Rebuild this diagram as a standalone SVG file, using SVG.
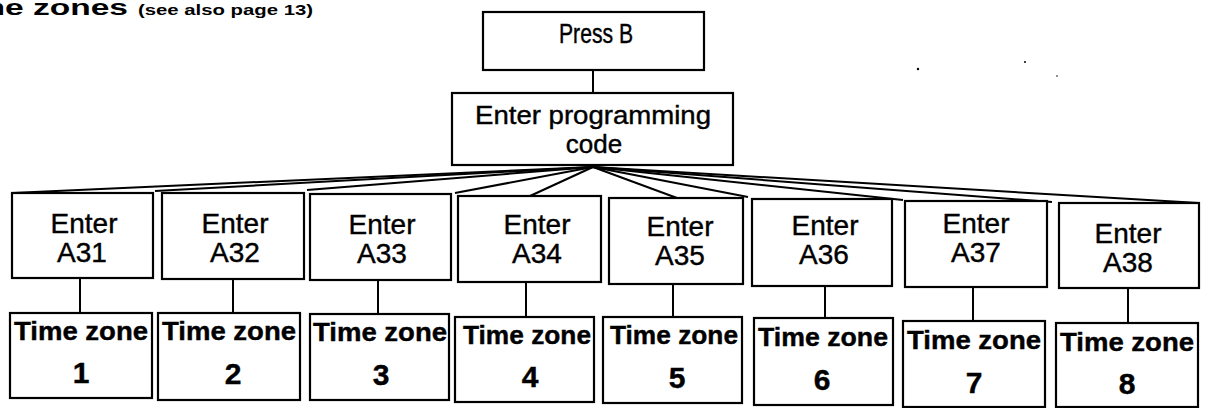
<svg xmlns="http://www.w3.org/2000/svg" width="1207" height="408" viewBox="0 0 1207 408">
<style>
.box{fill:#fff;stroke:#000;stroke-width:2.2}
.ln{stroke:#000;stroke-width:2;fill:none}
.t{font-family:"Liberation Sans",Arial,sans-serif;fill:#000;text-anchor:middle;stroke:#000;stroke-width:0.4}
.en{font-size:28px}
.tz{font-size:25px;font-weight:bold}
.num{font-size:30px;font-weight:bold}
</style>
<rect width="1207" height="408" fill="#fff"/>
<g id="title">
<text x="-54" y="15" font-family="Liberation Sans,Arial,sans-serif" font-weight="bold" font-size="22" textLength="182" lengthAdjust="spacingAndGlyphs">Time zones</text>
<text x="138" y="15" font-family="Liberation Sans,Arial,sans-serif" font-weight="bold" font-size="15" textLength="175" lengthAdjust="spacingAndGlyphs">(see also page 13)</text>
</g>
<g id="specks" fill="#000">
<circle cx="918" cy="69" r="1.2"/><circle cx="1025" cy="62" r="1"/><circle cx="1057" cy="76" r="0.8"/>
</g>
<g id="connectors">
<line class="ln" x1="593" y1="70" x2="593" y2="93"/>
<line class="ln" x1="593" y1="167" x2="12" y2="193"/>
<line class="ln" x1="593" y1="167" x2="155" y2="191"/>
<line class="ln" x1="593" y1="167" x2="307" y2="190"/>
<line class="ln" x1="593" y1="167" x2="455" y2="193"/>
<line class="ln" x1="593" y1="167" x2="530" y2="196"/>
<line class="ln" x1="593" y1="167" x2="677" y2="198"/>
<line class="ln" x1="593" y1="167" x2="748" y2="197"/>
<line class="ln" x1="593" y1="167" x2="903" y2="200"/>
<line class="ln" x1="593" y1="167" x2="1052" y2="202"/>
<line class="ln" x1="593" y1="167" x2="1199" y2="203"/>
<line class="ln" x1="80" y1="278" x2="80" y2="313"/>
<line class="ln" x1="233" y1="279" x2="233" y2="313"/>
<line class="ln" x1="378" y1="280" x2="378" y2="314"/>
<line class="ln" x1="526" y1="282" x2="526" y2="317"/>
<line class="ln" x1="673" y1="284" x2="673" y2="317"/>
<line class="ln" x1="825" y1="286" x2="825" y2="318"/>
<line class="ln" x1="973" y1="287" x2="973" y2="321"/>
<line class="ln" x1="1128" y1="288" x2="1128" y2="323"/>
</g>
<g id="pressB"><rect class="box" x="483" y="12" width="221" height="58"/><text class="t" x="596" y="43" font-size="27" textLength="74" lengthAdjust="spacingAndGlyphs">Press B</text></g>
<g id="code"><rect class="box" x="452" y="93" width="281" height="72"/><text class="t" x="593" y="124" font-size="26" textLength="236" lengthAdjust="spacingAndGlyphs">Enter programming</text><text class="t" x="594" y="153" font-size="26">code</text></g>
<g id="enterA31"><rect class="box" x="12" y="193" width="141" height="85"/><text class="t en" x="84" y="233">Enter</text><text class="t en" x="82" y="262">A31</text></g>
<g id="enterA32"><rect class="box" x="162" y="193" width="142" height="86"/><text class="t en" x="235" y="233">Enter</text><text class="t en" x="235" y="262">A32</text></g>
<g id="enterA33"><rect class="box" x="310" y="194" width="141" height="86"/><text class="t en" x="382" y="234">Enter</text><text class="t en" x="382" y="263">A33</text></g>
<g id="enterA34"><rect class="box" x="458" y="196" width="143" height="86"/><text class="t en" x="537" y="234">Enter</text><text class="t en" x="537" y="263">A34</text></g>
<g id="enterA35"><rect class="box" x="609" y="198" width="134" height="86"/><text class="t en" x="680" y="236">Enter</text><text class="t en" x="680" y="265">A35</text></g>
<g id="enterA36"><rect class="box" x="752" y="199" width="140" height="87"/><text class="t en" x="825" y="235">Enter</text><text class="t en" x="824" y="264">A36</text></g>
<g id="enterA37"><rect class="box" x="905" y="201" width="142" height="86"/><text class="t en" x="976" y="233">Enter</text><text class="t en" x="976" y="262">A37</text></g>
<g id="enterA38"><rect class="box" x="1059" y="203" width="140" height="85"/><text class="t en" x="1128" y="243">Enter</text><text class="t en" x="1128" y="272">A38</text></g>
<g id="tz1"><rect class="box" x="10" y="313" width="142" height="85"/><text class="t tz" x="81" y="340" textLength="134" lengthAdjust="spacingAndGlyphs">Time zone</text><text class="t num" x="81" y="383">1</text></g>
<g id="tz2"><rect class="box" x="158" y="313" width="142" height="87"/><text class="t tz" x="229" y="340" textLength="134" lengthAdjust="spacingAndGlyphs">Time zone</text><text class="t num" x="233" y="384">2</text></g>
<g id="tz3"><rect class="box" x="310" y="314" width="139" height="86"/><text class="t tz" x="380" y="341" textLength="134" lengthAdjust="spacingAndGlyphs">Time zone</text><text class="t num" x="381" y="385">3</text></g>
<g id="tz4"><rect class="box" x="455" y="317" width="139" height="85"/><text class="t tz" x="527" y="344" textLength="128" lengthAdjust="spacingAndGlyphs">Time zone</text><text class="t num" x="530" y="387">4</text></g>
<g id="tz5"><rect class="box" x="603" y="317" width="139" height="86"/><text class="t tz" x="674" y="344" textLength="128" lengthAdjust="spacingAndGlyphs">Time zone</text><text class="t num" x="677" y="388">5</text></g>
<g id="tz6"><rect class="box" x="754" y="318" width="139" height="87"/><text class="t tz" x="823" y="346" textLength="130" lengthAdjust="spacingAndGlyphs">Time zone</text><text class="t num" x="822" y="390">6</text></g>
<g id="tz7"><rect class="box" x="903" y="321" width="142" height="86"/><text class="t tz" x="974" y="349" textLength="134" lengthAdjust="spacingAndGlyphs">Time zone</text><text class="t num" x="974" y="393">7</text></g>
<g id="tz8"><rect class="box" x="1056" y="323" width="142" height="84"/><text class="t tz" x="1127" y="351" textLength="134" lengthAdjust="spacingAndGlyphs">Time zone</text><text class="t num" x="1127" y="394">8</text></g>
</svg>
